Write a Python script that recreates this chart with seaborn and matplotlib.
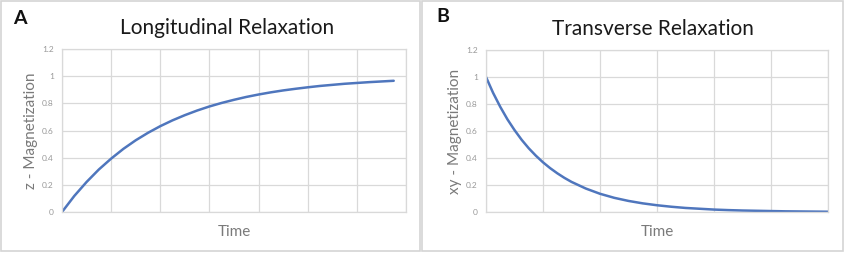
import matplotlib
matplotlib.use("Agg")
import matplotlib.pyplot as plt
from matplotlib.patches import Rectangle
import pandas as pd
import seaborn as sns

# data
time_a = [0, 0.25, 0.5, 0.75, 1.0, 1.25, 1.5, 1.75, 2.0, 2.25, 2.5, 2.75, 3.0, 3.25,
          3.5, 3.75, 4.0, 4.25, 4.5, 4.75, 5.0, 5.25, 5.5, 5.75, 6.0, 6.25, 6.5, 6.75]
z_mag = [0, 0.118, 0.221, 0.313, 0.393, 0.465, 0.528, 0.583, 0.632, 0.675, 0.713, 0.747,
         0.777, 0.803, 0.826, 0.847, 0.865, 0.881, 0.895, 0.907, 0.918, 0.928, 0.936,
         0.944, 0.950, 0.956, 0.961, 0.966]

time_b = [0, 0.125, 0.25, 0.375, 0.5, 0.625, 0.75, 0.875, 1.0, 1.125, 1.25, 1.375, 1.5,
          1.75, 2.0, 2.25, 2.5, 2.75, 3.0, 3.25, 3.5, 3.75, 4.0, 4.25, 4.5, 4.75, 5.0,
          5.25, 5.5, 5.75, 6.0]
xy_mag = [1.0, 0.882, 0.779, 0.687, 0.607, 0.535, 0.472, 0.417, 0.368, 0.325, 0.287,
          0.253, 0.223, 0.174, 0.135, 0.105, 0.082, 0.064, 0.050, 0.039, 0.030, 0.024,
          0.018, 0.014, 0.011, 0.009, 0.007, 0.005, 0.004, 0.003, 0.002]

y_ticks = [0, 0.2, 0.4, 0.6, 0.8, 1.0, 1.2]
y_ticklabels = ["0", "0.2", "0.4", "0.6", "0.8", "1", "1.2"]

titles = ["Longitudinal Relaxation", "Transverse Relaxation"]
ylabels = ["z - Magnetization", "xy - Magnetization"]
letters = ["A", "B"]

sns.set_theme(style="white")
plt.rcParams["font.family"] = ["Lato", "DejaVu Sans"]

line_color = "#4f76bd"
grid_color = "#d9d9d9"
text_gray = "#7a7a7a"

fig = plt.figure(figsize=(8.5, 2.58), dpi=100)

# outer panel frames
fig.add_artist(Rectangle((1 / 850, 7 / 258), 419 / 850, 250 / 258, transform=fig.transFigure,
                         fill=False, edgecolor="#d4d4d4", linewidth=1.2))
fig.add_artist(Rectangle((422 / 850, 7 / 258), 421 / 850, 250 / 258, transform=fig.transFigure,
                         fill=False, edgecolor="#d4d4d4", linewidth=1.2))

ax_a = fig.add_axes([62 / 850, 46 / 258, 344 / 850, 163 / 258])
ax_b = fig.add_axes([486 / 850, 46 / 258, 342 / 850, 162 / 258])

df_a = pd.DataFrame({"Time": time_a, "mag": z_mag})
df_b = pd.DataFrame({"Time": time_b, "mag": xy_mag})

sns.lineplot(data=df_a, x="Time", y="mag", ax=ax_a, color=line_color, linewidth=1.8)
sns.lineplot(data=df_b, x="Time", y="mag", ax=ax_b, color=line_color, linewidth=1.8)

# title is centred on the chart area, a bit left of the plot centre
for ax, xmax, title, ylab, tx in [(ax_a, 7, titles[0], ylabels[0], 0.48),
                                  (ax_b, 6, titles[1], ylabels[1], 0.488)]:
    ax.set_xlim(0, xmax)
    ax.set_ylim(0, 1.2)
    ax.set_xticks(range(0, xmax + 1))
    ax.set_xticklabels([])
    ax.set_yticks(y_ticks)
    ax.set_yticklabels(y_ticklabels, fontsize=6, color="#999999")
    ax.tick_params(length=0, pad=6)
    ax.grid(True, color=grid_color, linewidth=0.9)
    ax.set_axisbelow(True)
    for sp in ax.spines.values():
        sp.set_color(grid_color)
        sp.set_linewidth(0.9)
    ax.set_xlabel("Time", fontsize=11, color=text_gray, labelpad=3)
    ax.set_ylabel(ylab, fontsize=11, color=text_gray, labelpad=3)
    ax.set_title(title, fontsize=15, color="#1a1a1a", pad=11, x=tx)

fig.text(13 / 850, 1 - 19 / 258, letters[0], fontsize=14, fontweight="bold",
         color="#111111", va="center")
fig.text(436 / 850, 1 - 17 / 258, letters[1], fontsize=14, fontweight="bold",
         color="#111111", va="center")

fig.savefig("out.png", dpi=100)
